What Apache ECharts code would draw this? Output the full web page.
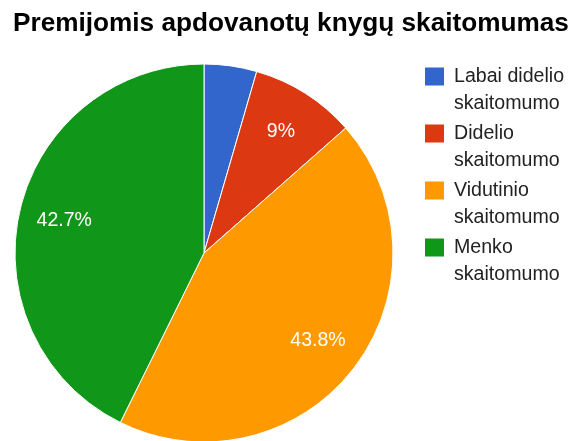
<!DOCTYPE html>
<html><head><meta charset="utf-8">
<script src="https://cdn.jsdelivr.net/npm/echarts@6/dist/echarts.min.js"></script>
<style>html,body{margin:0;padding:0;background:#fff}#c{width:577px;height:441px}</style>
</head><body><div id="c"></div>
<script>
const title = 'Premijomis apdovanotų knygų skaitomumas';
const categories = ['Labai didelio skaitomumo', 'Didelio skaitomumo', 'Vidutinio skaitomumo', 'Menko skaitomumo'];
const values = [4.5, 9, 43.8, 42.7];
const colors = ['#3366cc', '#dc3912', '#ff9900', '#109618'];

const data = categories.map((n, i) => ({ name: n, value: values[i], itemStyle: { color: colors[i] } }));
const chart = echarts.init(document.getElementById('c'));
chart.setOption({
  animation: false,
  title: {
    text: title, left: 8, top: 5,
    textStyle: { fontFamily: 'Liberation Sans, Arial, sans-serif', fontWeight: 'bold', fontSize: 26.2, color: '#000', lineHeight: 27 }
  },
  legend: {
    orient: 'vertical', left: 420, top: 58,
    data: categories,
    icon: 'path://M0,0H19V18H0Z M24,45L24,45',
    itemWidth: 24, itemHeight: 45, itemGap: 3,
    itemStyle: { borderWidth: 0 },
    formatter: n => n.replace(/ (\S+)$/, '\n$1'),
    textStyle: { fontFamily: 'Liberation Sans, Arial, sans-serif', fontSize: 19.6, color: '#222', lineHeight: 27 }
  },
  series: [
    {
      type: 'pie', center: [204, 253], radius: 189, startAngle: 90, clockwise: true,
      itemStyle: { borderColor: '#fff', borderWidth: 1 },
      label: { show: false }, labelLine: { show: false },
      emphasis: { disabled: true },
      data: data
    },
    {
      type: 'pie', center: [204, 253], radius: [92, 189], startAngle: 90, clockwise: true,
      silent: true,
      itemStyle: { color: 'rgba(0,0,0,0)', borderWidth: 0 },
      label: {
        show: true, position: 'inside', color: '#fff',
        fontFamily: 'Liberation Sans, Arial, sans-serif', fontSize: 19.5,
        formatter: p => p.value < 5 ? '' : p.value + '%'
      },
      labelLine: { show: false },
      emphasis: { disabled: true },
      data: categories.map((n, i) => ({ name: n, value: values[i] }))
    }
  ]
});
</script></body></html>
